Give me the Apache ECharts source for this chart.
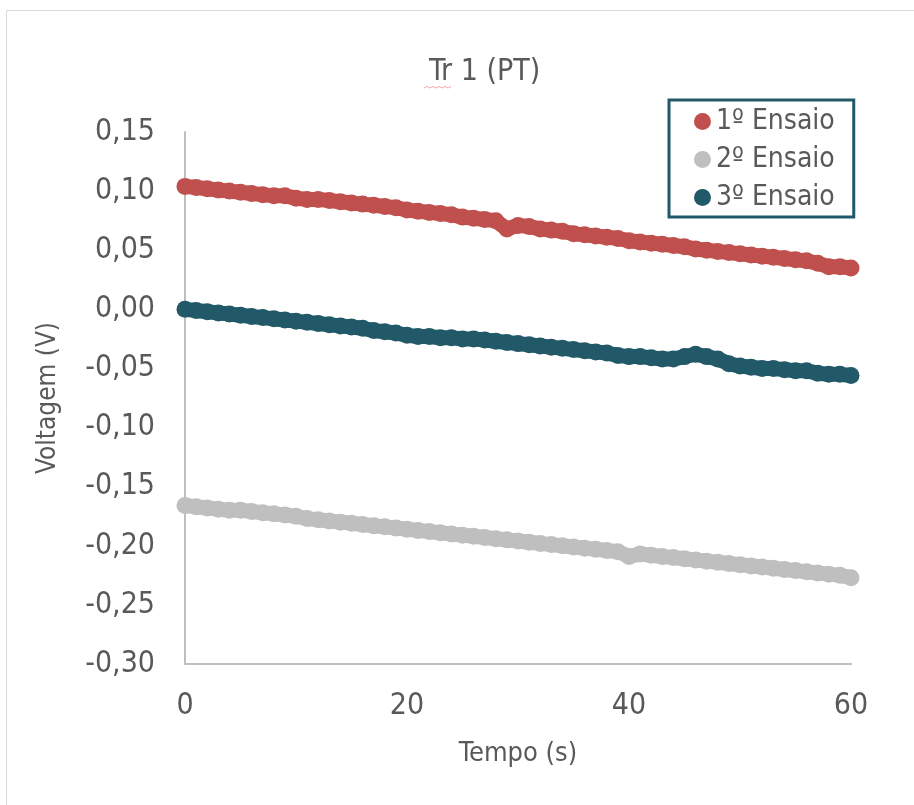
<!DOCTYPE html>
<html>
<head>
<meta charset="utf-8">
<script src="https://cdn.jsdelivr.net/npm/echarts@6/dist/echarts.min.js"></script>
<style>html,body{margin:0;padding:0;background:#fff}#c{width:914px;height:805px}</style>
</head>
<body>
<div id="c"></div>
<script>
const seriesNames = ['1º Ensaio', '2º Ensaio', '3º Ensaio'];
const xTicks = [0, 20, 40, 60];
const yTicks = [-0.30, -0.25, -0.20, -0.15, -0.10, -0.05, 0.00, 0.05, 0.10, 0.15];
const time = [0,1,2,3,4,5,6,7,8,9,10,11,12,13,14,15,16,17,18,19,20,21,22,23,24,25,26,27,28,29,30,31,32,33,34,35,36,37,38,39,40,41,42,43,44,45,46,47,48,49,50,51,52,53,54,55,56,57,58,59,60];
const ensaio1 = [0.104,0.103,0.102,0.101,0.100,0.099,0.098,0.097,0.096,0.096,0.094,0.093,0.093,0.092,0.091,0.090,0.089,0.088,0.087,0.086,0.084,0.083,0.082,0.081,0.080,0.078,0.077,0.076,0.075,0.068,0.071,0.070,0.068,0.067,0.066,0.064,0.063,0.062,0.061,0.060,0.058,0.057,0.056,0.055,0.054,0.053,0.051,0.050,0.049,0.048,0.047,0.046,0.045,0.044,0.043,0.042,0.041,0.039,0.036,0.036,0.035];
const ensaio2 = [-0.166,-0.167,-0.168,-0.169,-0.170,-0.170,-0.171,-0.172,-0.173,-0.174,-0.175,-0.177,-0.178,-0.179,-0.180,-0.181,-0.182,-0.183,-0.184,-0.185,-0.186,-0.187,-0.188,-0.189,-0.190,-0.191,-0.192,-0.193,-0.194,-0.195,-0.196,-0.197,-0.198,-0.199,-0.200,-0.201,-0.202,-0.203,-0.204,-0.205,-0.209,-0.207,-0.208,-0.209,-0.210,-0.211,-0.212,-0.213,-0.214,-0.215,-0.216,-0.217,-0.218,-0.219,-0.220,-0.221,-0.222,-0.223,-0.224,-0.225,-0.227];
const ensaio3 = [0.000,-0.001,-0.002,-0.003,-0.004,-0.005,-0.006,-0.007,-0.008,-0.009,-0.010,-0.011,-0.012,-0.013,-0.014,-0.015,-0.016,-0.018,-0.019,-0.020,-0.022,-0.023,-0.023,-0.024,-0.024,-0.025,-0.025,-0.026,-0.027,-0.028,-0.029,-0.030,-0.031,-0.032,-0.033,-0.034,-0.035,-0.036,-0.037,-0.039,-0.040,-0.040,-0.041,-0.042,-0.042,-0.040,-0.038,-0.040,-0.042,-0.046,-0.048,-0.049,-0.050,-0.050,-0.051,-0.052,-0.052,-0.054,-0.055,-0.055,-0.056];
const colors = ['#C0504D', '#BFBFBF', '#215968'];

const FONT = "'DejaVu Sans Condensed', 'Liberation Sans', sans-serif";
const TXT = '#595959';
function pairs(ys) { return time.map((t, i) => [t, ys[i]]); }
const dataSets = [ensaio1, ensaio2, ensaio3];

const chart = echarts.init(document.getElementById('c'));
chart.setOption({
  animation: false,
  backgroundColor: '#fff',
  graphic: [
    { type: 'rect', shape: { x: 6.5, y: 10.5, width: 1000, height: 1000 }, style: { fill: 'none', stroke: '#D9D9D9', lineWidth: 1 } },
    { type: 'polyline', shape: { points: [[424,88],[427,86.5],[430,88],[433,86.5],[436,88],[439,86.5],[442,88],[445,86.5],[448,88],[451,86.5]] }, style: { stroke: '#F4A6A6', lineWidth: 1, fill: 'none' } }
  ],
  title: {
    text: 'Tr 1 (PT)', left: 424, top: 52,
    textStyle: { fontFamily: FONT, fontSize: 30, fontWeight: 'normal', color: TXT }
  },
  legend: {
    data: seriesNames, orient: 'vertical', left: 669, top: 100,
    icon: 'circle', itemWidth: 17, itemHeight: 17, itemGap: 5,
    padding: [5, 19, 3, 25],
    borderColor: '#215968', borderWidth: 3,
    textStyle: { fontFamily: FONT, fontSize: 28, lineHeight: 33, color: TXT, padding: [0, 0, 0, 0] }
  },
  grid: { left: 185, right: 63, top: 132, bottom: 141, containLabel: false },
  xAxis: {
    type: 'value', min: 0, max: 60, interval: 20,
    name: 'Tempo (s)', nameLocation: 'middle', nameGap: 76,
    nameTextStyle: { fontFamily: FONT, fontSize: 27, color: TXT },
    axisLine: { show: true, onZero: false, lineStyle: { color: '#BFBFBF', width: 2 } },
    axisTick: { show: false }, splitLine: { show: false },
    axisLabel: { fontFamily: FONT, fontSize: 30, color: TXT, margin: 27,
      customValues: xTicks, formatter: v => String(v) }
  },
  yAxis: {
    type: 'value', min: -0.30, max: 0.15, interval: 0.05,
    name: 'Voltagem (V)', nameLocation: 'middle', nameGap: 124, nameRotate: 90,
    nameTextStyle: { fontFamily: FONT, fontSize: 26, color: TXT },
    axisLine: { show: true, onZero: false, lineStyle: { color: '#BFBFBF', width: 2 } },
    axisTick: { show: false }, splitLine: { show: false },
    axisLabel: { fontFamily: FONT, fontSize: 30, color: TXT, margin: 30,
      customValues: yTicks, formatter: v => v.toFixed(2).replace('.', ',') }
  },
  series: dataSets.map((d, i) => ({
    name: seriesNames[i], type: 'line', data: pairs(d),
    color: colors[i], symbol: 'circle', symbolSize: 17, showSymbol: true,
    lineStyle: { width: 15, color: colors[i] },
    itemStyle: { color: colors[i] },
    z: 2 + i
  }))
});
</script>
</body>
</html>
